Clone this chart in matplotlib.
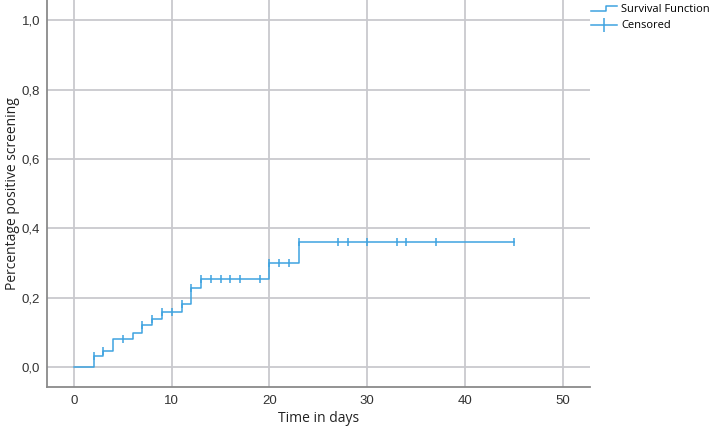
import matplotlib
matplotlib.use("Agg")
import numpy as np
import matplotlib.pyplot as plt
from matplotlib.lines import Line2D
from matplotlib.legend_handler import HandlerBase

# step function (event times and cumulative values)
event_days = [0, 2, 3, 4, 6, 7, 8, 9, 11, 12, 13, 20, 23]
event_vals = [0.0, 0.032, 0.048, 0.080, 0.099, 0.121, 0.138, 0.159, 0.181, 0.227, 0.254, 0.299, 0.361]
end_day = 45

# censored observations
censored_days = [2, 3, 5, 7, 8, 9, 10, 11, 12, 13, 14, 15, 16, 17, 19, 20, 21, 22, 23,
                 27, 28, 30, 33, 34, 37, 45]

xticks = [0, 10, 20, 30, 40, 50]
yticks = [0.0, 0.2, 0.4, 0.6, 0.8, 1.0]

blue = "#3fa3e0"
grid_col = "#c9c9ce"


class StepHandler(HandlerBase):
    def create_artists(self, legend, orig, xd, yd, w, h, fontsize, trans):
        xs = [xd, xd + w * 0.55, xd + w * 0.55, xd + w]
        ys = [yd + h * 0.15, yd + h * 0.15, yd + h * 0.85, yd + h * 0.85]
        ln = Line2D(xs, ys, color=blue, lw=1.1, transform=trans)
        return [ln]


fig = plt.figure(figsize=(7.09, 4.29), dpi=100)
ax = fig.add_axes([0.0663, 0.098, 0.766, 0.902])

xs = list(event_days) + [end_day]
ys = list(event_vals) + [event_vals[-1]]
ax.step(xs, ys, where="post", color=blue, lw=1.1, zorder=3)

cens_vals = []
for d in censored_days:
    idx = np.searchsorted(event_days, d, side="right") - 1
    cens_vals.append(event_vals[idx])
ax.plot(censored_days, cens_vals, linestyle="none", marker="|", markersize=6,
        markeredgewidth=1.1, color=blue, zorder=4)

ax.set_xlim(-2.76, 52.8)
ax.set_ylim(-0.057, 1.058)
ax.set_xticks(xticks)
ax.set_yticks(yticks)
ax.set_yticklabels([f"{v:.1f}".replace(".", ",") for v in yticks])
ax.grid(True, color=grid_col, lw=1.3)
ax.set_axisbelow(True)
ax.tick_params(length=0, labelsize=9.5, colors="#333333")
ax.tick_params(axis="x", pad=6)
ax.tick_params(axis="y", pad=5)
for lbl in ax.get_xticklabels() + ax.get_yticklabels():
    lbl.set_family("Liberation Sans")
for s in ["top", "right"]:
    ax.spines[s].set_visible(False)
for s in ["left", "bottom"]:
    ax.spines[s].set_color("#8a8a8a")
    ax.spines[s].set_linewidth(1.3)

ax.set_xlabel("Time in days", fontsize=10, family="Open Sans", color="#222222", labelpad=3)
ax.set_ylabel("Percentage positive screening", fontsize=10, family="Open Sans", color="#222222", labelpad=1)

h1 = Line2D([], [], color=blue)
h2 = Line2D([], [], color=blue, lw=1.1, marker="|", markersize=10, markeredgewidth=1.1)
fig.legend([h1, h2], ["Survival Function", "Censored"],
           handler_map={h1: StepHandler()},
           loc="upper left", bbox_to_anchor=(0.828, 1.0), frameon=False,
           prop={"family": "Open Sans", "size": 8}, handlelength=2.3,
           handletextpad=0.35, labelspacing=0.45, borderaxespad=0.0)

fig.savefig("out.png", dpi=100)
